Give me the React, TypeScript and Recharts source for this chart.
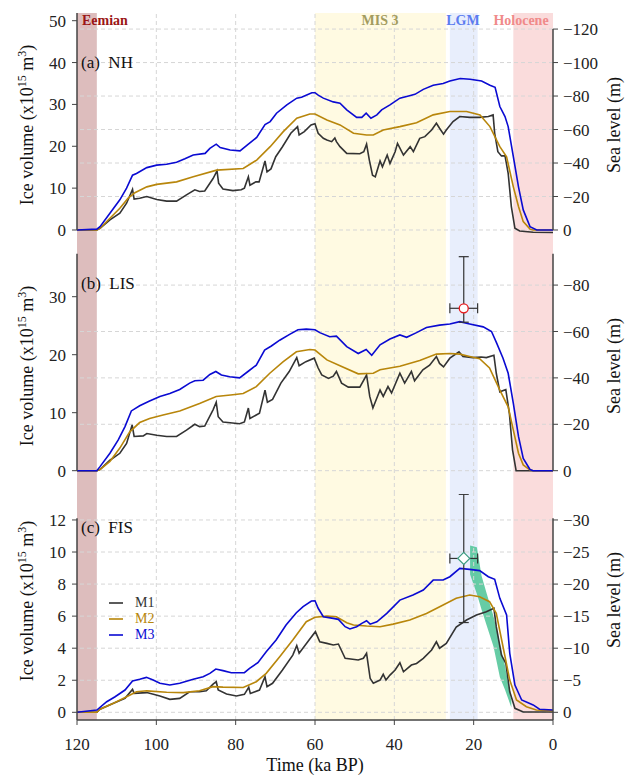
import {
  ComposedChart,
  Line,
  Area,
  Scatter,
  ErrorBar,
  XAxis,
  YAxis,
  ReferenceArea,
  ReferenceLine,
} from "recharts";

const FONT = '"Liberation Serif", "Times New Roman", serif';
const SL_FACTOR = 2.5; // 1e15 m3 of ice ~ 2.5 m of sea level

const xTicks = [0, 20, 40, 60, 80, 100, 120];
const xGrid = [20, 40, 60, 80, 100];

// time (ka BP), ice volume (1e15 m3)
const nhM1 = [[120,0],[115,0],[114.2,0.4],[111.7,2.4],[109.2,4.0],[107.5,6.4],[106,9.7],[105.6,7.4],[104.2,7.6],[102.4,8.0],[99.9,7.3],[97.4,6.9],[94.9,6.9],[92.4,8.4],[90.3,9.6],[89.1,9.2],[87.8,9.3],[85.7,12.3],[84.7,14.1],[84.3,11.2],[83.2,9.8],[80.7,9.4],[78.6,9.6],[77.8,10.0],[76.8,12.7],[76.4,10.7],[74.9,11.5],[74.1,11.5],[72.6,16.5],[72.1,13.9],[71.1,14.6],[69.9,17.5],[68.2,19.9],[66.1,23.1],[64.4,24.7],[64,22.7],[62.7,23.5],[61,25.1],[60,25.4],[59.2,23.1],[57.9,21.9],[57,21.5],[55.8,21.1],[55,22.0],[54.6,21.1],[53.7,19.9],[52,18.3],[48.7,18.2],[47.7,18.7],[47,20.5],[46.3,16.7],[45.5,13.1],[44.8,12.7],[43.6,16.5],[43,15.1],[41.8,17.9],[41.1,15.9],[39.8,18.7],[39.2,20.7],[37.7,17.9],[36,19.9],[35.2,18.7],[33.6,21.9],[32.3,22.3],[30.6,23.9],[29.4,25.5],[28.6,24.3],[27.6,22.9],[26.9,23.9],[25.2,25.9],[23.5,27.1],[21,26.9],[18.5,26.9],[16.3,27.1],[15.1,27.5],[14.7,23.1],[13.9,18.7],[13,17.7],[12.1,17.7],[11.3,13.5],[10.5,5.6],[9.6,0.4],[8.4,-0.24],[5,-0.55],[0,-0.6]];
const nhM2 = [[120,0],[115,0],[114.2,0.4],[111.7,2.8],[109.2,5.2],[107.1,7.6],[105.4,8.9],[102.4,10.3],[99.9,10.9],[94.9,11.5],[90.7,12.7],[84.8,14.3],[78.1,14.7],[74.7,16.7],[71.3,19.9],[68,23.5],[64.6,26.7],[61.3,27.7],[60,27.7],[57,26.3],[53.7,25.1],[50.3,23.1],[47,22.7],[45.3,22.7],[42.8,23.9],[38.6,24.7],[34.4,25.6],[30.2,27.5],[26,28.3],[21.8,28.3],[18.4,27.5],[15.9,24.7],[13.4,19.9],[11.7,17.5],[10,10.3],[8.7,5.6],[7.5,2.0],[5.8,0.2],[5,0],[0,0]];
const nhM3 = [[120,0],[115,0.2],[114.2,0.8],[111.7,4.0],[109.2,7.2],[107.5,10.0],[106,13.1],[105,13.5],[102.4,14.9],[99.9,15.5],[97.4,15.7],[94.9,16.2],[92.8,17.0],[90.7,17.9],[87.7,18.3],[86.5,19.5],[84.9,20.5],[83.9,19.7],[81.4,19.1],[78.9,18.9],[76.8,20.5],[74.7,22.1],[72.6,25.2],[71.3,25.9],[69.7,27.9],[67.1,29.9],[64.6,31.5],[63.4,31.7],[60.8,32.8],[60,32.8],[59.2,32.2],[57.9,31.5],[55.4,30.6],[53.7,30.3],[52,28.7],[49.5,26.9],[48.2,26.9],[47.1,27.9],[45.9,26.7],[44.4,27.5],[43.2,28.7],[41.1,29.9],[38.6,31.5],[36.9,31.9],[34.8,32.4],[32.7,33.6],[30.2,34.6],[27.7,35.0],[26,35.6],[23.4,36.2],[20.9,36.0],[18,35.6],[15.9,34.6],[14.6,34.1],[13.4,29.5],[12.1,27.1],[11.3,24.7],[10,17.5],[8.7,10.3],[7.5,4.8],[5.8,0.8],[4.1,0],[0,0]];

const lisM1 = [[120,0],[115,0],[114.2,0.2],[111.7,1.8],[109.2,3.0],[107.5,4.7],[106.1,7.9],[105.6,5.9],[103.3,6.0],[102.4,6.4],[99.9,6.1],[97.4,5.9],[94.9,5.9],[92.4,7.0],[90.3,8.0],[89.1,7.6],[87.8,7.7],[85.7,10.5],[84.9,11.8],[84.4,9.3],[83.2,8.4],[79,8.1],[77.8,8.4],[76.8,10.8],[76.4,9.0],[74,9.9],[72.6,13.9],[72,11.8],[70.7,12.3],[68.6,15.1],[66.5,17.1],[64.6,19.5],[64,18.1],[62.3,18.8],[60.2,19.4],[59.2,17.7],[58.3,16.5],[56.6,15.9],[55.4,16.3],[54.6,17.1],[53.3,15.1],[51.6,14.4],[48.7,14.4],[47,16.5],[46.2,12.8],[45.4,10.8],[43.6,13.9],[42.8,12.8],[41.6,14.5],[40.7,13.4],[38.6,16.8],[37.4,15.1],[35.7,17.1],[34.9,15.5],[32.8,17.4],[31.1,18.2],[29.4,19.7],[28.6,18.5],[27.6,17.9],[26,19.4],[23.7,20.5],[22.7,19.7],[20.2,19.5],[18.1,19.6],[16.8,19.5],[14.9,19.9],[14.3,16.8],[13.4,13.6],[11.9,14.0],[11,9.9],[10.2,3.6],[9.3,0],[0,0]];
const lisM2 = [[120,0],[115,0],[114.2,0.2],[111.7,1.6],[109.2,3.9],[106.7,6.7],[104.2,8.3],[101.7,9.0],[98.3,9.6],[94.1,10.3],[89.1,11.6],[84.9,12.8],[80.7,13.1],[78.1,13.3],[74.8,14.5],[71.4,16.8],[68,18.8],[64.7,20.5],[61.3,20.9],[60,20.8],[57,19.1],[53.7,18.1],[49.1,16.7],[45.3,16.8],[43.6,17.4],[38.6,18.0],[33.6,19.0],[29.4,20.1],[26,20.2],[23.5,20.1],[21,19.7],[18.5,19.3],[16,17.7],[13.4,13.9],[11.3,11.0],[10,7.0],[8.7,3.0],[7.5,1.0],[5.8,0.1],[5,0],[0,0]];
const lisM3 = [[120,0],[115,0],[114.2,0.7],[111.7,3.0],[109.6,5.3],[107.9,7.6],[106.3,10.3],[104.2,11.2],[101.7,12.0],[99.1,12.8],[96.6,13.3],[94.1,14.0],[91.6,15.1],[90.3,15.5],[88.2,15.6],[86.5,16.6],[85,17.1],[83.6,16.5],[81.5,16.2],[79,16.0],[76.9,17.1],[74.8,18.2],[72.7,20.8],[71,21.5],[68.9,22.5],[66.4,23.5],[64.3,24.3],[62.2,24.4],[60,24.3],[58.8,23.8],[56.3,23.1],[54.6,23.2],[52,21.4],[49.1,20.2],[47.1,20.9],[45.7,19.9],[43.6,21.7],[41.1,22.7],[38.6,23.4],[36.9,23.0],[34.4,23.8],[31.9,24.7],[28.6,25.1],[26,25.3],[23.5,25.7],[21,25.3],[17.6,24.8],[15.5,24.0],[14.2,22.0],[12.6,19.4],[11.3,16.8],[10,11.6],[8.7,5.9],[7.5,2.1],[5.8,0.2],[5,0],[0,0]];

const fisM1 = [[120,0],[115,0],[114.2,0.19],[110.8,0.56],[107.9,0.87],[106,1.43],[105.6,1.18],[102.4,1.23],[99.1,1.02],[96.6,0.81],[94.1,0.87],[91.6,1.28],[89.1,1.28],[87.4,1.34],[85.7,1.76],[84.9,1.91],[84.4,1.39],[82.3,1.14],[79.8,1.02],[77.8,1.12],[76.7,1.56],[76.3,1.18],[74,1.39],[72.6,2.22],[72.1,1.6],[70.7,1.81],[68.2,2.64],[65.6,3.57],[64.6,4.16],[64,3.68],[61.5,4.51],[59.9,5.03],[58.8,4.4],[57,4.3],[55.4,4.2],[54.1,4.26],[52.4,3.37],[49.1,3.26],[47.8,3.37],[47,3.68],[46.1,2.12],[45.3,1.81],[43.6,2.01],[42.8,2.37],[42.1,2.01],[41.1,2.32],[39.8,2.64],[38.6,3.09],[37.7,2.53],[35.7,2.95],[34.4,3.05],[32.7,3.37],[30.6,3.89],[29.4,4.4],[28.6,4.0],[26.9,4.3],[24.4,5.32],[21.8,5.76],[19.3,6.07],[16.8,6.28],[14.9,6.49],[14.3,5.34],[13,3.57],[11.9,3.06],[10.9,1.28],[9.6,0.25],[7.5,0.02],[0,0.02]];
const fisM2 = [[120,0],[115,0],[114.2,0.19],[110.8,0.56],[107.5,0.97],[105,1.28],[102.4,1.34],[97.4,1.25],[93.2,1.23],[89.1,1.34],[85.7,1.6],[83.2,1.57],[78.1,1.55],[74.8,1.91],[72.3,2.43],[68.9,3.47],[65.6,4.51],[62.2,5.65],[60,5.93],[57,6.0],[54.6,5.96],[52,5.59],[50.3,5.45],[47,5.38],[43.6,5.34],[40.3,5.5],[36.1,5.76],[31.9,6.17],[27.7,6.69],[24.4,7.11],[21,7.32],[18.5,7.21],[16,6.9],[14.3,6.17],[12.6,4.09],[10.9,2.01],[9.2,0.77],[6.7,0.35],[4.2,0.14],[0,0.1]];
const fisM3 = [[120,0],[115,0.14],[112.5,0.66],[110.4,0.97],[107.9,1.39],[106,1.95],[104.2,2.06],[102.5,2.18],[100.8,2.01],[99.1,1.81],[96.6,1.7],[94.1,1.81],[90.7,2.06],[88.2,2.22],[86.5,2.43],[85,2.7],[83.2,2.6],[81.1,2.47],[77.8,2.47],[76.5,2.74],[74.4,3.1],[72.3,3.78],[69.8,4.51],[67.3,5.45],[64.7,6.21],[63,6.59],[60.9,6.94],[60,6.96],[59.2,6.49],[57.9,5.96],[55.4,5.86],[54.1,5.8],[52.4,5.34],[51.2,5.2],[49.5,5.34],[48.2,5.55],[47,5.71],[46.1,5.5],[44.4,5.65],[41.9,6.17],[38.6,7.0],[35.3,7.32],[32.7,7.63],[30.2,8.25],[27.7,8.25],[26,8.46],[23.5,8.98],[21,8.92],[18.5,8.84],[16.3,8.46],[14.7,8.3],[13.4,7.11],[11.7,6.07],[10.9,3.68],[9.6,1.7],[7.9,0.77],[5,0.46],[3.4,0.19],[0,0.14]];

// FIS reconstruction envelope (green strip)
const fisStripT = [20.9, 19.2, 18, 16.7, 15, 13.4, 12.1, 10.5];
const fisStripLo = [8.6, 7.4, 6.4, 5.4, 4.1, 2.2, 1.4, 0.3];
const fisStripHi = [10.4, 10.3, 8.5, 7.4, 6.0, 4.3, 2.9, 0.7];

// LGM estimates with error bars
const lisEstimate = { t: 22.5, v: 28.0, ex: [3.5, 3.5], ey: [2.4, 8.9] };
const fisEstimate = { t: 22.5, v: 9.6, ex: [3.5, 3.5], ey: [4.0, 4.0] };

const bands = [
  { name: "Eemian", from: 115, to: 120, fill: "#ddbdbd", color: "#9b1616", labelX: 82, align: "left" },
  { name: "MIS 3", from: 27, to: 60, fill: "#fffae2", color: "#a39c5e", labelX: 380, align: "center" },
  { name: "LGM", from: 19, to: 26, fill: "#e8eefc", color: "#5c7cf0", labelX: 463, align: "center" },
  { name: "Holocene", from: 0, to: 10, fill: "#fadcdc", color: "#f08a8a", labelX: 521, align: "center" },
];

const models = [
  { name: "M1", color: "#333333" },
  { name: "M2", color: "#b8860b" },
  { name: "M3", color: "#0a0ad2" },
];

const toRows = (pts: number[][]) => pts.map(([t, v]) => ({ t, v }));
const stripRows = fisStripT.map((t, i) => ({ t, r: [fisStripLo[i], fisStripHi[i]] }));

const SPINE = "#444";
const GRID = "#d6d6d6";
const tickStyle = { fontSize: 17, fill: "#222", fontFamily: FONT };

function fmtSea(v: number) {
  return v === 0 ? "0" : "\u2212" + v;
}

function Circle(props: any) {
  return <circle cx={props.cx} cy={props.cy} r={4.5} fill="#fff" stroke="#e8181c" strokeWidth={1.3} />;
}

function Diamond(props: any) {
  const { cx, cy } = props;
  const s = 6;
  return (
    <polygon
      points={`${cx},${cy - s} ${cx + s},${cy} ${cx},${cy + s} ${cx - s},${cy}`}
      fill="#fff"
      stroke="#3a9c80"
      strokeWidth={1.2}
    />
  );
}

interface PanelProps {
  top: number;
  height: number;
  marginTop: number;
  domain: [number, number];
  leftTicks: number[];
  rightTicks: number[];
  leftSpine: [number, number];
  rightSpine: [number, number];
  series: number[][][];
  showX?: boolean;
  extraFront?: any;
}

function Panel(p: PanelProps) {
  const rightDomain: [number, number] = [p.domain[0] * SL_FACTOR, p.domain[1] * SL_FACTOR];
  return (
    <div style={{ position: "absolute", left: 0, top: p.top }}>
      <ComposedChart
        width={634}
        height={p.height}
        margin={{ top: p.marginTop, right: 0, bottom: 0, left: 0 }}
      >
        <XAxis
          type="number"
          dataKey="t"
          domain={[0, 120]}
          reversed
          allowDataOverflow
          hide={!p.showX}
          ticks={xTicks}
          height={56}
          tickSize={5}
          tickMargin={13}
          tick={tickStyle}
          tickLine={{ stroke: SPINE }}
          axisLine={{ stroke: SPINE, strokeWidth: 1.5 }}
        />
        <YAxis
          yAxisId="left"
          type="number"
          domain={p.domain}
          allowDataOverflow
          ticks={p.leftTicks}
          width={77}
          tickSize={5}
          tickMargin={6}
          tick={tickStyle}
          tickLine={{ stroke: SPINE }}
          axisLine={false}
        />
        <YAxis
          yAxisId="right"
          orientation="right"
          type="number"
          domain={rightDomain}
          allowDataOverflow
          ticks={p.rightTicks}
          tickFormatter={fmtSea}
          width={81}
          tickSize={5}
          tickMargin={5}
          tick={tickStyle}
          tickLine={{ stroke: SPINE }}
          axisLine={false}
        />
        {bands.map((b) => (
          <ReferenceArea
            key={b.name}
            yAxisId="left"
            x1={b.from}
            x2={b.to}
            fill={b.fill}
            fillOpacity={1}
            stroke="none"
            ifOverflow="visible"
          />
        ))}
        {xGrid.map((x) => (
          <ReferenceLine key={"gx" + x} yAxisId="left" x={x} stroke={GRID} strokeDasharray="4 3" />
        ))}
        {p.rightTicks.map((v) => (
          <ReferenceLine key={"gy" + v} yAxisId="right" y={v} stroke={GRID} strokeDasharray="4 3" />
        ))}
        {p.series.map((s, i) => (
          <Line
            key={models[i].name}
            data={toRows(s)}
            dataKey="v"
            yAxisId="left"
            type="linear"
            stroke={models[i].color}
            strokeWidth={1.6}
            dot={false}
            activeDot={false}
            isAnimationActive={false}
          />
        ))}
        {p.extraFront}
        <ReferenceLine
          yAxisId="left"
          segment={[{ x: 120, y: p.leftSpine[0] }, { x: 120, y: p.leftSpine[1] }]}
          stroke={SPINE}
          strokeWidth={1.5}
          ifOverflow="visible"
        />
        <ReferenceLine
          yAxisId="left"
          segment={[{ x: 0, y: p.rightSpine[0] }, { x: 0, y: p.rightSpine[1] }]}
          stroke={SPINE}
          strokeWidth={1.5}
          ifOverflow="visible"
        />
      </ComposedChart>
    </div>
  );
}

function RotLabel({ x, y, children }: { x: number; y: number; children: any }) {
  return (
    <div
      style={{
        position: "absolute",
        left: x,
        top: y,
        transform: "translate(-50%, -50%) rotate(-90deg)",
        whiteSpace: "nowrap",
        fontSize: 18,
        color: "#111",
        lineHeight: 1,
      }}
    >
      {children}
    </div>
  );
}

const iceLabel = (
  <span>
    Ice volume (x10<sup style={{ fontSize: 12 }}>15</sup> m<sup style={{ fontSize: 12 }}>3</sup>)
  </span>
);

function PanelTitle({ y, text }: { y: number; text: string }) {
  return (
    <div
      style={{
        position: "absolute",
        left: 81,
        top: y,
        transform: "translateY(-50%)",
        fontSize: 17,
        color: "#111",
        whiteSpace: "pre",
        lineHeight: 1,
      }}
    >
      {text}
    </div>
  );
}

export default function App() {
  return (
    <div
      style={{
        position: "absolute",
        left: 0,
        top: 0,
        width: 634,
        height: 776,
        background: "#fff",
        fontFamily: FONT,
        overflow: "hidden",
      }}
    >
      <Panel
        top={0}
        height={242}
        marginTop={13}
        domain={[-2.87, 51.84]}
        leftTicks={[0, 10, 20, 30, 40, 50]}
        rightTicks={[0, 20, 40, 60, 80, 100, 120]}
        leftSpine={[0, 51.84]}
        rightSpine={[0, 48]}
        series={[nhM1, nhM2, nhM3]}
      />
      <Panel
        top={242}
        height={252}
        marginTop={0}
        domain={[-4.02, 39.43]}
        leftTicks={[0, 10, 20, 30]}
        rightTicks={[0, 20, 40, 60, 80]}
        leftSpine={[0, 37.4]}
        rightSpine={[0, 37.4]}
        series={[lisM1, lisM2, lisM3]}
        extraFront={
          <Scatter
            data={[lisEstimate]}
            dataKey="v"
            yAxisId="left"
            shape={<Circle />}
            isAnimationActive={false}
          >
            <ErrorBar dataKey="ey" direction="y" width={5} stroke="#333" strokeWidth={1.2} isAnimationActive={false} />
            <ErrorBar dataKey="ex" direction="x" width={5} stroke="#333" strokeWidth={1.2} isAnimationActive={false} />
          </Scatter>
        }
      />
      <Panel
        top={494}
        height={282}
        marginTop={0}
        domain={[-0.48, 13.62]}
        leftTicks={[0, 2, 4, 6, 8, 10, 12]}
        rightTicks={[0, 5, 10, 15, 20, 25, 30]}
        leftSpine={[-0.48, 12.1]}
        rightSpine={[-0.48, 12.1]}
        series={[fisM1, fisM2, fisM3]}
        showX
        extraFront={
          <>
            <Area
              data={stripRows}
              dataKey="r"
              yAxisId="left"
              type="linear"
              stroke="none"
              fill="#55c79b"
              fillOpacity={0.9}
              isAnimationActive={false}
            />
            <Scatter
              data={[fisEstimate]}
              dataKey="v"
              yAxisId="left"
              shape={<Diamond />}
              isAnimationActive={false}
            >
              <ErrorBar dataKey="ey" direction="y" width={5} stroke="#333" strokeWidth={1.2} isAnimationActive={false} />
              <ErrorBar dataKey="ex" direction="x" width={5} stroke="#333" strokeWidth={1.2} isAnimationActive={false} />
            </Scatter>
          </>
        }
      />

      {bands.map((b) => (
        <div
          key={b.name}
          style={{
            position: "absolute",
            left: b.labelX,
            top: 21,
            transform: b.align === "left" ? "translateY(-50%)" : "translate(-50%, -50%)",
            fontSize: 14,
            fontWeight: "bold",
            color: b.color,
            whiteSpace: "nowrap",
            lineHeight: 1,
          }}
        >
          {b.name}
        </div>
      ))}

      <PanelTitle y={62} text="(a)  NH" />
      <PanelTitle y={283} text="(b)  LIS" />
      <PanelTitle y={527} text="(c)  FIS" />

      <RotLabel x={26} y={125}>{iceLabel}</RotLabel>
      <RotLabel x={26} y={366}>{iceLabel}</RotLabel>
      <RotLabel x={26} y={601}>{iceLabel}</RotLabel>
      <RotLabel x={614} y={125}>Sea level (m)</RotLabel>
      <RotLabel x={614} y={366}>Sea level (m)</RotLabel>
      <RotLabel x={614} y={600}>Sea level (m)</RotLabel>

      <div
        style={{
          position: "absolute",
          left: 315,
          top: 765,
          transform: "translate(-50%, -50%)",
          fontSize: 18,
          color: "#111",
          whiteSpace: "nowrap",
          lineHeight: 1,
        }}
      >
        Time (ka BP)
      </div>

      {models.map((m, i) => (
        <div
          key={m.name}
          style={{
            position: "absolute",
            left: 109,
            top: 603 + i * 16,
            transform: "translateY(-50%)",
            display: "flex",
            alignItems: "center",
            lineHeight: 1,
          }}
        >
          <svg width={14} height={4} style={{ display: "block" }}>
            <line x1={0} y1={2} x2={14} y2={2} stroke={m.color} strokeWidth={1.6} />
          </svg>
          <span style={{ marginLeft: 12, fontSize: 14, color: m.color }}>{m.name}</span>
        </div>
      ))}
    </div>
  );
}
